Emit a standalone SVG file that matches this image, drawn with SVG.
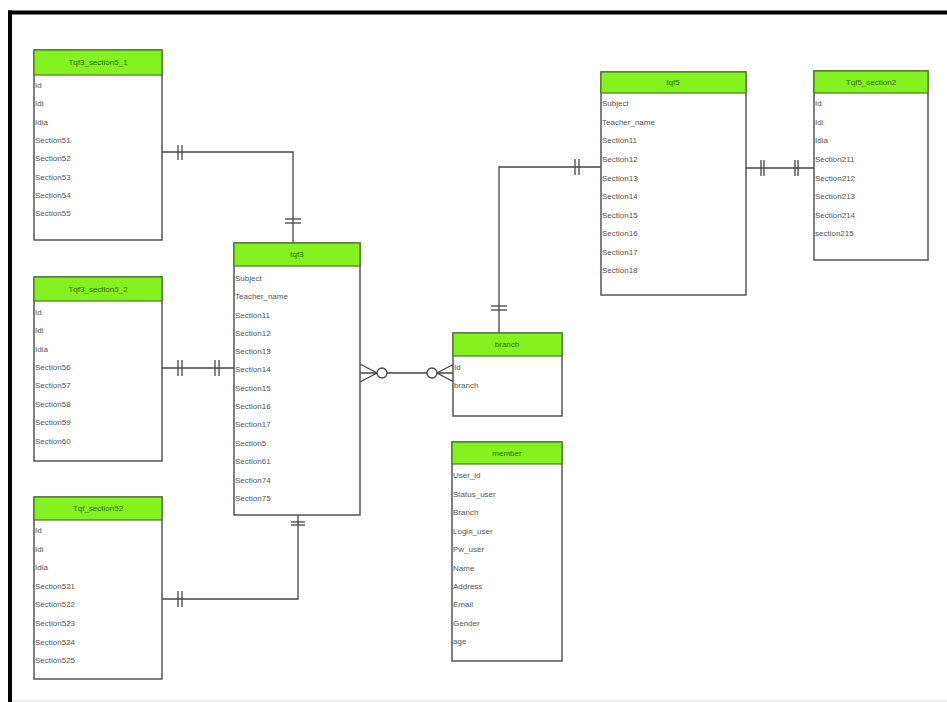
<svg xmlns="http://www.w3.org/2000/svg" width="947" height="702" viewBox="0 0 947 702">
<style>
.box{fill:#fff;stroke:#555;stroke-width:1.5}
.hd{fill:#84f21f;stroke:#4a7a20;stroke-width:1.2}
.ht{font-family:"Liberation Sans",Arial,sans-serif;font-size:8px;fill:#2e6b10;text-anchor:middle}
.rt{font-family:"Liberation Sans",Arial,sans-serif;font-size:8px;fill:#555}
.ln{fill:none;stroke:#444;stroke-width:1.3}
.mk{fill:none;stroke:#444;stroke-width:1.3}
.ci{fill:#fff;stroke:#444;stroke-width:1.3}
</style>
<rect x="0" y="0" width="947" height="702" fill="#fff"/>
<line x1="8" y1="12.5" x2="947" y2="12.5" stroke="#000" stroke-width="4"/>
<line x1="10" y1="10.5" x2="10" y2="702" stroke="#000" stroke-width="4"/>
<line x1="12" y1="701" x2="947" y2="701" stroke="#ddd" stroke-width="1"/>

<g id="connectors">
  <!-- s5_1 to tqf3 -->
  <polyline class="ln" points="162,152 293,152 293,243"/>
  <line class="mk" x1="178" y1="145" x2="178" y2="160"/>
  <line class="mk" x1="182" y1="145" x2="182" y2="160"/>
  <line class="mk" x1="285" y1="219" x2="301" y2="219"/>
  <line class="mk" x1="285" y1="223" x2="301" y2="223"/>
  <!-- s5_2 to tqf3 -->
  <line class="ln" x1="162" y1="368" x2="234" y2="368"/>
  <line class="mk" x1="178" y1="360" x2="178" y2="376"/>
  <line class="mk" x1="182" y1="360" x2="182" y2="376"/>
  <line class="mk" x1="215" y1="360" x2="215" y2="376"/>
  <line class="mk" x1="219" y1="360" x2="219" y2="376"/>
  <!-- s52 to tqf3 -->
  <polyline class="ln" points="162,599 298,599 298,515"/>
  <line class="mk" x1="178" y1="591" x2="178" y2="607"/>
  <line class="mk" x1="182" y1="591" x2="182" y2="607"/>
  <line class="mk" x1="291" y1="522" x2="305" y2="522"/>
  <line class="mk" x1="291" y1="525" x2="305" y2="525"/>
  <!-- tqf3 to branch -->
  <line class="ln" x1="360" y1="373" x2="454" y2="373"/>
  <polyline class="mk" points="360,364 377,373 360,382"/>
  <circle class="ci" cx="382" cy="373" r="5"/>
  <polyline class="mk" points="454,364 437,373 454,382"/>
  <circle class="ci" cx="432" cy="373" r="5"/>
  <!-- branch to tqf5 -->
  <polyline class="ln" points="499,333 499,167 601,167"/>
  <line class="mk" x1="491" y1="306" x2="507" y2="306"/>
  <line class="mk" x1="491" y1="310" x2="507" y2="310"/>
  <line class="mk" x1="575" y1="159" x2="575" y2="175"/>
  <line class="mk" x1="579" y1="159" x2="579" y2="175"/>
  <!-- tqf5 to tqf5_section2 -->
  <line class="ln" x1="746" y1="168" x2="814" y2="168"/>
  <line class="mk" x1="761" y1="160" x2="761" y2="176"/>
  <line class="mk" x1="764" y1="160" x2="764" y2="176"/>
  <line class="mk" x1="795" y1="160" x2="795" y2="176"/>
  <line class="mk" x1="798" y1="160" x2="798" y2="176"/>
</g>

<g id="tqf3_section5_1">
  <rect class="box" x="34" y="50" width="128" height="190"/>
  <rect class="hd" x="34" y="50" width="128" height="25"/>
  <text class="ht" x="98" y="65">Tqf3_section5_1</text>
  <text class="rt" x="35" y="88">Id</text>
  <text class="rt" x="35" y="106">Idi</text>
  <text class="rt" x="35" y="125">Idia</text>
  <text class="rt" x="35" y="143">Section51</text>
  <text class="rt" x="35" y="161">Section52</text>
  <text class="rt" x="35" y="180">Section53</text>
  <text class="rt" x="35" y="198">Section54</text>
  <text class="rt" x="35" y="216">Section55</text>
</g>

<g id="tqf3_section5_2">
  <rect class="box" x="34" y="277" width="128" height="184"/>
  <rect class="hd" x="34" y="277" width="128" height="24"/>
  <text class="ht" x="98" y="292">Tqf3_section5_2</text>
  <text class="rt" x="35" y="315">Id</text>
  <text class="rt" x="35" y="333">Idi</text>
  <text class="rt" x="35" y="352">Idia</text>
  <text class="rt" x="35" y="370">Section56</text>
  <text class="rt" x="35" y="388">Section57</text>
  <text class="rt" x="35" y="407">Section58</text>
  <text class="rt" x="35" y="425">Section59</text>
  <text class="rt" x="35" y="444">Section60</text>
</g>

<g id="tqf_section52">
  <rect class="box" x="34" y="497" width="128" height="182"/>
  <rect class="hd" x="34" y="497" width="128" height="23"/>
  <text class="ht" x="98" y="511">Tqf_section52</text>
  <text class="rt" x="35" y="533">Id</text>
  <text class="rt" x="35" y="552">Idi</text>
  <text class="rt" x="35" y="570">Idia</text>
  <text class="rt" x="35" y="589">Section521</text>
  <text class="rt" x="35" y="607">Section522</text>
  <text class="rt" x="35" y="626">Section523</text>
  <text class="rt" x="35" y="645">Section524</text>
  <text class="rt" x="35" y="663">Section525</text>
</g>

<g id="tqf3">
  <rect class="box" x="234" y="243" width="126" height="272"/>
  <rect class="hd" x="234" y="243" width="126" height="23"/>
  <text class="ht" x="297" y="257">tqf3</text>
  <text class="rt" x="235" y="281">Subject</text>
  <text class="rt" x="235" y="299">Teacher_name</text>
  <text class="rt" x="235" y="318">Section11</text>
  <text class="rt" x="235" y="336">Section12</text>
  <text class="rt" x="235" y="354">Section13</text>
  <text class="rt" x="235" y="372">Section14</text>
  <text class="rt" x="235" y="391">Section15</text>
  <text class="rt" x="235" y="409">Section16</text>
  <text class="rt" x="235" y="427">Section17</text>
  <text class="rt" x="235" y="446">Section5</text>
  <text class="rt" x="235" y="464">Section61</text>
  <text class="rt" x="235" y="483">Section74</text>
  <text class="rt" x="235" y="501">Section75</text>
</g>

<g id="branch">
  <rect class="box" x="453" y="333" width="109" height="83"/>
  <rect class="hd" x="453" y="333" width="109" height="23"/>
  <text class="ht" x="507" y="347">branch</text>
  <text class="rt" x="454" y="370">Id</text>
  <text class="rt" x="454" y="388">branch</text>
</g>

<g id="member">
  <rect class="box" x="452" y="442" width="110" height="219"/>
  <rect class="hd" x="452" y="442" width="110" height="22"/>
  <text class="ht" x="507" y="456">member</text>
  <text class="rt" x="453" y="478">User_id</text>
  <text class="rt" x="453" y="497">Status_user</text>
  <text class="rt" x="453" y="515">Branch</text>
  <text class="rt" x="453" y="534">Login_user</text>
  <text class="rt" x="453" y="552">Pw_user</text>
  <text class="rt" x="453" y="571">Name</text>
  <text class="rt" x="453" y="589">Address</text>
  <text class="rt" x="453" y="607">Email</text>
  <text class="rt" x="453" y="626">Gender</text>
  <text class="rt" x="453" y="644">age</text>
</g>

<g id="tqf5">
  <rect class="box" x="601" y="72" width="145" height="223"/>
  <rect class="hd" x="601" y="72" width="145" height="21"/>
  <text class="ht" x="673" y="85">tqf5</text>
  <text class="rt" x="602" y="106">Subject</text>
  <text class="rt" x="602" y="125">Teacher_name</text>
  <text class="rt" x="602" y="143">Section11</text>
  <text class="rt" x="602" y="162">Section12</text>
  <text class="rt" x="602" y="181">Section13</text>
  <text class="rt" x="602" y="199">Section14</text>
  <text class="rt" x="602" y="218">Section15</text>
  <text class="rt" x="602" y="236">Section16</text>
  <text class="rt" x="602" y="255">Section17</text>
  <text class="rt" x="602" y="273">Section18</text>
</g>

<g id="tqf5_section2">
  <rect class="box" x="814" y="71" width="114" height="189"/>
  <rect class="hd" x="814" y="71" width="114" height="22"/>
  <text class="ht" x="871" y="85">Tqf5_section2</text>
  <text class="rt" x="815" y="106">Id</text>
  <text class="rt" x="815" y="125">Idi</text>
  <text class="rt" x="815" y="143">Idia</text>
  <text class="rt" x="815" y="162">Section211</text>
  <text class="rt" x="815" y="181">Section212</text>
  <text class="rt" x="815" y="199">Section213</text>
  <text class="rt" x="815" y="218">Section214</text>
  <text class="rt" x="815" y="236">section215</text>
</g>
</svg>
